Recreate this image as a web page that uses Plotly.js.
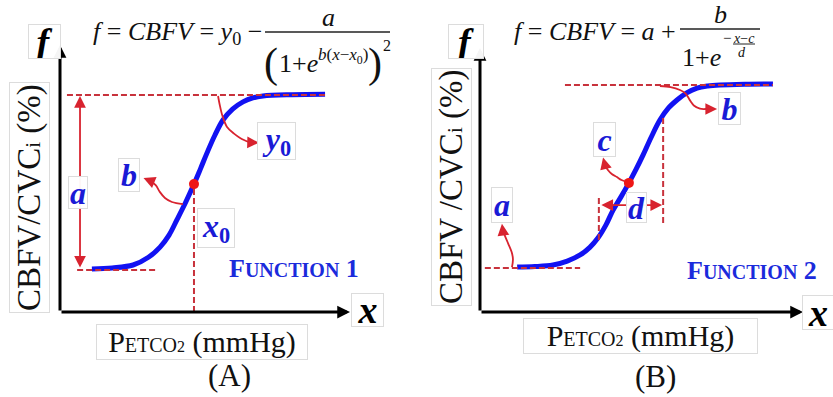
<!DOCTYPE html>
<html>
<head>
<meta charset="utf-8">
<script src="https://cdn.plot.ly/plotly-3.0.1.min.js"></script>
<style>
  html, body { margin: 0; padding: 0; background: #fff; }
  #chart { width: 833px; height: 397px; }
</style>
</head>
<body>
<div id="chart"></div>
<script>
// ---- Panel A: Function 1 (axis units 0-100 on both axes) ----
const f1CurveX = [11.0, 18.0, 25.2, 30.5, 34.5, 37.6, 40.3, 43.3, 46.2, 48.5, 50.7, 53.4, 56.2, 59.5, 63.1, 66.5, 70.0, 80.0, 91.4];
const f1CurveY = [16.1, 16.5, 17.6, 20.5, 24.3, 28.8, 34.5, 41.0, 47.9, 53.8, 59.6, 66.2, 71.9, 76.0, 78.7, 80.2, 80.9, 81.4, 81.6];
const f1Levels = [15.7, 81.3];          // lower plateau, upper plateau (y0)
const f1Mid = [46.2, 47.9];             // inflection point (x0, f(x0))
const f1TopGuideX = [2.4, 92.1];
const f1LowGuideX = [5.9, 32.8];
const f1ArrowAX = 6.9;                  // x of the double arrow marking a
const f1ConnB = { x: [42.4, 38.6, 36.2, 34.4, 33.0, 31.0], y: [40.4, 41.2, 42.7, 45.0, 47.5, 49.2] };
const f1ConnY0 = { x: [54.5, 55.0, 56.0, 57.6, 60.0, 62.1, 65.5], y: [80.9, 78.0, 73.5, 69.3, 66.8, 65.2, 63.5] };
const f1Tips = { b: [28.8, 50.2], y0: [68.6, 63.4] };

// ---- Panel B: Function 2 ----
const f2CurveX = [11.5, 17.0, 22.6, 27.0, 31.0, 34.0, 36.5, 39.0, 41.2, 43.7, 46.1, 48.3, 50.5, 53.0, 55.7, 58.3, 61.0, 64.0, 67.2, 70.5, 74.3, 82.0, 90.7];
const f2CurveY = [17.0, 17.2, 17.8, 19.3, 21.6, 24.5, 28.0, 33.0, 38.6, 43.7, 48.9, 54.0, 59.5, 66.2, 72.7, 77.2, 80.3, 83.0, 84.8, 85.6, 86.0, 86.3, 86.4];
const f2Levels = [16.7, 86.0];          // a (lower plateau), a + b (upper plateau)
const f2Mid = [46.1, 48.9];             // c
const f2TopGuideX = [26.3, 90.7];
const f2LowGuideX = [1.5, 31.0];
const f2SpanD = [36.8, 56.7];           // width marked d
const f2SpanDY = 40.5;
const f2DGuideLeftY = [27.3, 43.2];
const f2DGuideRightY = [33.7, 73.5];
const f2ConnA = { x: [9.9, 10.2, 9.8, 8.7, 7.6, 7.0], y: [17.0, 20.0, 22.7, 26.0, 29.2, 31.4] };
const f2ConnC = { x: [45.8, 43.8, 42.4, 40.8, 39.6, 38.9, 38.5], y: [49.2, 50.0, 51.1, 52.3, 53.8, 55.3, 56.6] };
const f2ConnB = { x: [55.7, 59.0, 61.9, 63.6, 64.4, 65.2, 66.2, 68.1, 70.0], y: [85.6, 85.2, 84.1, 82.8, 81.4, 79.8, 78.2, 77.0, 76.9] };
const f2Tips = { a: [6.8, 33.4], c: [38.1, 58.5], b: [73.4, 76.9] };

// ---- styling ----
const W = 833, H = 397;
const SERIF = 'Liberation Serif, Times New Roman, serif';
const BLUE_CURVE = '#1212f2';
const BLUE_TEXT = '#1a1ad6';
const RED_GUIDE = '#c8323c';
const RED_ARROW = '#d8232f';
const PX = v => v / W;
const PY = v => 1 - v / H;

function dashLine(x, y, xa, ya) {
  return { x, y, xaxis: xa, yaxis: ya, mode: 'lines', hoverinfo: 'skip',
           line: { color: RED_GUIDE, width: 2, dash: '6px,3px' } };
}
function connector(c, xa, ya) {
  return { x: c.x, y: c.y, xaxis: xa, yaxis: ya, mode: 'lines', hoverinfo: 'skip',
           line: { color: RED_ARROW, width: 1.8, shape: 'spline' } };
}

const traces = [
  // panel A
  { x: f1CurveX, y: f1CurveY, xaxis: 'x', yaxis: 'y', mode: 'lines', hoverinfo: 'skip',
    line: { color: BLUE_CURVE, width: 5, shape: 'spline', smoothing: 1 } },
  dashLine(f1TopGuideX, [f1Levels[1], f1Levels[1]], 'x', 'y'),
  dashLine(f1LowGuideX, [f1Levels[0], f1Levels[0]], 'x', 'y'),
  dashLine([f1Mid[0], f1Mid[0]], [0, f1Mid[1]], 'x', 'y'),
  connector(f1ConnB, 'x', 'y'),
  connector(f1ConnY0, 'x', 'y'),
  { x: [f1Mid[0]], y: [f1Mid[1]], xaxis: 'x', yaxis: 'y', mode: 'markers', hoverinfo: 'skip',
    marker: { color: '#ee1616', size: 10 } },
  // panel B
  { x: f2CurveX, y: f2CurveY, xaxis: 'x2', yaxis: 'y2', mode: 'lines', hoverinfo: 'skip',
    line: { color: BLUE_CURVE, width: 5, shape: 'spline', smoothing: 1 } },
  dashLine(f2TopGuideX, [f2Levels[1], f2Levels[1]], 'x2', 'y2'),
  dashLine(f2LowGuideX, [f2Levels[0], f2Levels[0]], 'x2', 'y2'),
  dashLine([f2SpanD[0], f2SpanD[0]], f2DGuideLeftY, 'x2', 'y2'),
  dashLine([f2SpanD[1], f2SpanD[1]], f2DGuideRightY, 'x2', 'y2'),
  connector(f2ConnA, 'x2', 'y2'),
  connector(f2ConnC, 'x2', 'y2'),
  connector(f2ConnB, 'x2', 'y2'),
  { x: [f2Mid[0]], y: [f2Mid[1]], xaxis: 'x2', yaxis: 'y2', mode: 'markers', hoverinfo: 'skip',
    marker: { color: '#ee1616', size: 10 } }
];

const ann = [];
// axis arrows
function axisArrow(xr, yr, x, y) {
  ann.push({ xref: xr, yref: yr, axref: xr, ayref: yr, x, y, ax: 0, ay: 0, text: '',
             showarrow: true, arrowhead: 2, arrowsize: 0.85, arrowwidth: 3, arrowcolor: '#000', standoff: 0 });
}
axisArrow('x', 'y', 100, 0);  axisArrow('x', 'y', 0, 100);
axisArrow('x2', 'y2', 100, 0); axisArrow('x2', 'y2', 0, 100);

// red arrowheads closing the curved connectors
function head(xr, yr, tip, from) {
  ann.push({ xref: xr, yref: yr, axref: xr, ayref: yr, x: tip[0], y: tip[1], ax: from[0], ay: from[1],
             text: '', showarrow: true, arrowhead: 2, arrowsize: 1.3, arrowwidth: 1.8,
             arrowcolor: RED_ARROW, standoff: 0 });
}
const last = c => [c.x[c.x.length - 1], c.y[c.y.length - 1]];
head('x', 'y', f1Tips.b, last(f1ConnB));
head('x', 'y', f1Tips.y0, last(f1ConnY0));
head('x2', 'y2', f2Tips.a, last(f2ConnA));
head('x2', 'y2', f2Tips.c, last(f2ConnC));
head('x2', 'y2', f2Tips.b, last(f2ConnB));

// double arrows (a in panel A, d in panel B)
ann.push({ xref: 'x', yref: 'y', axref: 'x', ayref: 'y', x: f1ArrowAX, y: f1Levels[1], ax: f1ArrowAX, ay: f1Levels[0],
           text: '', showarrow: true, arrowhead: 2, startarrowhead: 2, arrowside: 'end+start',
           arrowsize: 1.3, startarrowsize: 1.3, arrowwidth: 1.8, arrowcolor: RED_ARROW, standoff: 1, startstandoff: 1 });
ann.push({ xref: 'x2', yref: 'y2', axref: 'x2', ayref: 'y2', x: f2SpanD[1], y: f2SpanDY, ax: f2SpanD[0], ay: f2SpanDY,
           text: '', showarrow: true, arrowhead: 2, startarrowhead: 2, arrowside: 'end+start',
           arrowsize: 1.3, startarrowsize: 1.3, arrowwidth: 1.8, arrowcolor: RED_ARROW, standoff: 1, startstandoff: 1 });

// boxed labels
function boxed(text, x, y, xr, yr, size, color, w, h, extra) {
  ann.push(Object.assign({ xref: xr, yref: yr, x, y, text, showarrow: false,
    font: { family: SERIF, size, color }, bgcolor: 'rgba(255,255,255,0.96)',
    bordercolor: '#dcdcdc', borderwidth: 1, borderpad: 0, width: w, height: h,
    xanchor: 'center', yanchor: 'middle' }, extra || {}));
}
// panel A parameter labels
boxed('<b><i>a</i></b>', 6.2, 44.6, 'x', 'y', 32, BLUE_TEXT, 18, 31);
boxed('<b><i>b</i></b>', 23.8, 51.3, 'x', 'y', 32, BLUE_TEXT, 20, 32);
boxed('<b><i>y</i><sub>0</sub></b>', 74.8, 64.0, 'x', 'y', 32, BLUE_TEXT, 37, 36);
boxed('<b><i>x</i><sub>0</sub></b>', 53.8, 31.5, 'x', 'y', 32, BLUE_TEXT, 36, 38);
// panel B parameter labels
boxed('<b><i>a</i></b>', 6.8, 40.5, 'x2', 'y2', 32, BLUE_TEXT, 20, 34);
boxed('<b><i>c</i></b>', 38.4, 65.2, 'x2', 'y2', 32, BLUE_TEXT, 21, 33);
boxed('<b><i>d</i></b>', 48.3, 39.4, 'x2', 'y2', 32, BLUE_TEXT, 19, 29);
boxed('<b><i>b</i></b>', 77.1, 76.9, 'x2', 'y2', 32, BLUE_TEXT, 21, 31);

// function names
const fnText = n => '<b>F<span style="font-size:20px">UNCTION</span> ' + n + '</b>';
ann.push({ xref: 'paper', yref: 'paper', x: PX(294), y: PY(268), text: fnText(1), showarrow: false,
           font: { family: SERIF, size: 26, color: '#1b2bdc' }, xanchor: 'center', yanchor: 'middle' });
ann.push({ xref: 'paper', yref: 'paper', x: PX(752), y: PY(270), text: fnText(2), showarrow: false,
           font: { family: SERIF, size: 26, color: '#1b2bdc' }, xanchor: 'center', yanchor: 'middle' });

// axis symbols f and x
boxed('<b><i>f</i></b>', PX(44), PY(42), 'paper', 'paper', 38, '#000', 31, 33);
boxed('<b><i>f</i></b>', PX(466), PY(41), 'paper', 'paper', 38, '#000', 34, 33);
boxed('<b><i>x</i></b>', PX(367), PY(310), 'paper', 'paper', 38, '#000', 31, 32);
boxed('<b><i>x</i></b>', PX(818), PY(312), 'paper', 'paper', 38, '#000', 30, 33);

// axis titles
const yTitle = sep => 'CBFV' + sep + '/CVC<span style="font-size:21px">i</span> (%)';
boxed(yTitle(''), PX(29), PY(198), 'paper', 'paper', 33, '#111', null, null, { textangle: -90, borderpad: 1 });
boxed(yTitle(' '), PX(451), PY(187), 'paper', 'paper', 33, '#111', null, null, { textangle: -90, borderpad: 1 });
const xTitle = 'P<span style="font-size:20px">ETCO</span><span style="font-size:16px">2</span> (mmHg)';
boxed(xTitle, PX(202), PY(342), 'paper', 'paper', 30, '#111', 210, null);
boxed(xTitle, PX(640), PY(336), 'paper', 'paper', 30, '#111', 233, null);
ann.push({ xref: 'paper', yref: 'paper', x: PX(229), y: PY(375), text: '(A)', showarrow: false,
           font: { family: SERIF, size: 31, color: '#111' }, xanchor: 'center', yanchor: 'middle' });
ann.push({ xref: 'paper', yref: 'paper', x: PX(655), y: PY(376), text: '(B)', showarrow: false,
           font: { family: SERIF, size: 31, color: '#111' }, xanchor: 'center', yanchor: 'middle' });

// formulas
function ftext(text, x, y, size, xanchor, yanchor) {
  ann.push({ xref: 'paper', yref: 'paper', x: PX(x), y: PY(y), text, showarrow: false,
             font: { family: SERIF, size, color: '#111' }, xanchor: xanchor || 'left', yanchor: yanchor || 'middle' });
}
const fracLines = [];
function fracLine(x0, x1, y, w) {
  fracLines.push({ type: 'line', xref: 'paper', yref: 'paper', x0: PX(x0), x1: PX(x1), y0: PY(y), y1: PY(y),
                   line: { color: '#222', width: w || 1.5 } });
}
// Function 1: f = CBFV = y0 - a / (1 + e^{b(x - x0)})^2
ftext('<i>f</i> = <i>CBFV</i> = <i>y</i><sub>0</sub> −', 264, 33, 26, 'right');
fracLine(265, 390, 32);
ftext('<i>a</i>', 328, 18, 26, 'center');
ftext('(', 271, 64, 42, 'center');
ftext('1+<i>e</i>', 277, 64, 26, 'left');
ftext('<i>b</i>(<i>x</i>−<i>x</i><sub>0</sub>)', 316, 56, 17, 'left');
ftext(')', 375, 64, 42, 'center');
ftext('2', 387, 46, 16, 'center');
// Function 2: f = CBFV = a + b / (1 + e^{-(x - c)/d})
ftext('<i>f</i> = <i>CBFV</i> = <i>a</i> +', 678, 31, 26, 'right');
fracLine(680, 760, 29);
ftext('<i>b</i>', 720, 15, 26, 'center');
ftext('1+<i>e</i>', 680, 57, 26, 'left');
ftext('−', 727, 38, 15, 'center');
ftext('<i>x</i>−<i>c</i>', 744, 38, 14, 'center');
fracLine(733, 755, 44, 1);
ftext('<i>d</i>', 742, 52, 14, 'center');

const hidden = { visible: false, fixedrange: true };
const layout = {
  width: W, height: H,
  margin: { l: 0, r: 0, t: 0, b: 0 },
  paper_bgcolor: '#fff', plot_bgcolor: 'rgba(0,0,0,0)',
  showlegend: false,
  xaxis: Object.assign({ domain: [PX(60), PX(350)], range: [0, 100] }, hidden),
  yaxis: Object.assign({ domain: [PY(312), PY(45)], range: [0, 100] }, hidden),
  xaxis2: Object.assign({ domain: [PX(480), PX(803)], range: [0, 100], anchor: 'y2' }, hidden),
  yaxis2: Object.assign({ domain: [PY(312), PY(48)], range: [0, 100], anchor: 'x2' }, hidden),
  annotations: ann,
  shapes: fracLines
};

Plotly.newPlot('chart', traces, layout, { displayModeBar: false, staticPlot: true });
</script>
</body>
</html>
